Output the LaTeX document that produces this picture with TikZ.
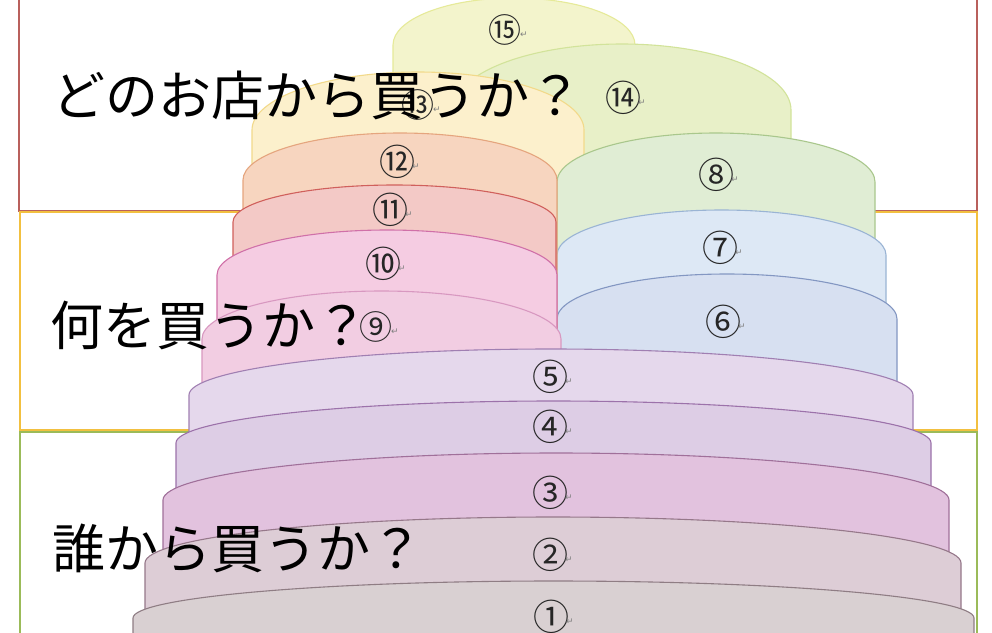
\documentclass[tikz,border=0pt]{standalone}
\usepackage{fontspec}
\newfontfamily\jp{Noto Sans CJK JP}
\newfontfamily\dv{DejaVu Sans}
\definecolor{bxA}{HTML}{B9605C}
\definecolor{bxB}{HTML}{F2C040}
\definecolor{bxC}{HTML}{9BBB59}
\newcommand{\dome}[6]{%
  \definecolor{domefill}{HTML}{#5}\definecolor{domedraw}{HTML}{#6}%
  \filldraw[domeline,fill=domefill,draw=domedraw] (#1,634) -- (#1,#3+#4)
    arc[start angle=180,end angle=360,x radius={(#2-#1)/2},y radius=#4] -- (#2,634) -- cycle;}
\tikzset{
  domeline/.style={line width=1.1pt,line join=round},
  numlbl/.style={font=\jp\fontsize{36}{36}\selectfont,inner sep=0pt,text=black!85},
  smalllbl/.style={font=\jp\fontsize{33}{33}\selectfont,inner sep=0pt,text=black!85},
  biglbl/.style={font=\jp\fontsize{53}{53}\selectfont,inner sep=0pt,anchor=west},
  retmark/.style={font=\dv\fontsize{9}{9}\selectfont,text=black!50,inner sep=0pt,anchor=west},
  boxline/.style={line width=2pt}
}
\begin{document}
\begin{tikzpicture}[x=1pt,y=-1pt]
\useasboundingbox (0,0) rectangle (992,632);
\fill[white] (0,0) rectangle (992,632);
% section boxes
\draw[boxline,draw=bxA] (19,-10) rectangle (977,210.5);
\draw[boxline,draw=bxB] (20,212) rectangle (977,430);
\draw[boxline,draw=bxC] (20,431.5) rectangle (977,650);
% domes, back to front
\dome{393}{635}{-2}{47}{F3F4CC}{E6EA99}
\dome{453}{791}{44}{66}{E8F0C8}{D2E39A}
\dome{252}{584}{72}{58}{FCF0CC}{F2D98A}
\dome{557}{875}{133}{49}{E0EDD4}{A9C78C}
\dome{557}{886}{210}{45}{DDE8F5}{9AB4D4}
\dome{557}{897}{274}{45}{D7E0F1}{8397C2}
\dome{243}{557}{133}{47}{F7D5BF}{E5A57E}
\dome{233}{556}{185}{37}{F3C9C6}{D0605C}
\dome{217}{557}{230}{45}{F5CCE2}{D070A8}
\dome{202}{561}{291}{48}{F2CDE2}{D898C0}
\dome{189}{913}{349}{46}{E5D8EC}{A07FB2}
\dome{176}{931}{401}{42}{DDCDE5}{9C72AA}
\dome{163}{949}{453}{47}{E2C2DE}{A0709A}
\dome{145}{961}{517}{46}{DDCDD6}{96788A}
\dome{133}{974}{581}{37}{D9D0D2}{8F7D84}
% number labels
\foreach \n/\x/\y/\c/\s in {15/505/30/⑮/smalllbl,14/623/98/⑭/numlbl,13/418/105/⑬/smalllbl,12/397/162/⑫/numlbl,11/390/210/⑪/numlbl,10/383/264/⑩/numlbl,9/376/327/⑨/smalllbl,8/716/175/⑧/numlbl,7/720/248/⑦/numlbl,6/723/322/⑥/numlbl,5/550/377/⑤/numlbl,4/550/427/④/numlbl,3/550/493/③/numlbl,2/550/555/②/numlbl,1/551/617/①/numlbl}{
  \node[\s] (n\n) at (\x,\y) {\c};
  \node[retmark] (r\n) at ([xshift=15pt,yshift=-5pt]n\n.center) {↵};
}
% section titles
\node[biglbl] (t1) at (52,95) {どのお店から買うか？};
\node[biglbl] (t2) at (50,325) {何を買うか？};
\node[biglbl] (t3) at (52,548) {誰から買うか？};
\end{tikzpicture}
\end{document}
